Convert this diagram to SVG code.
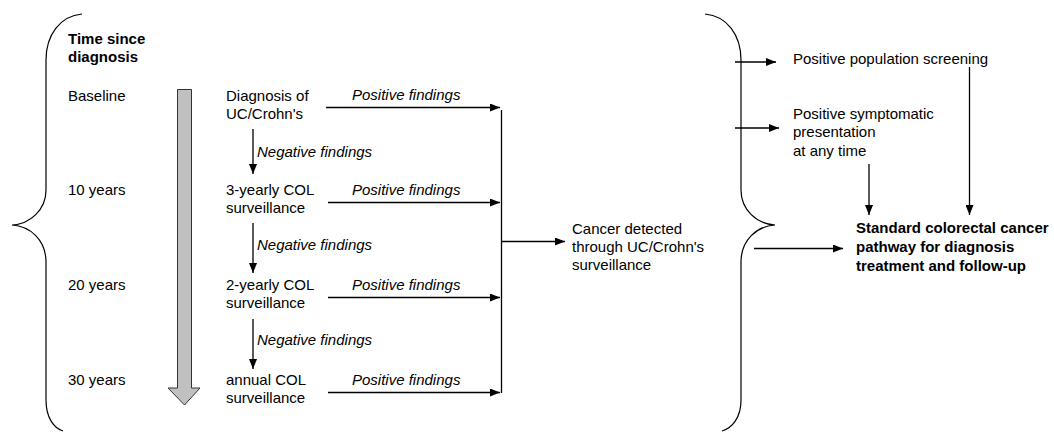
<svg xmlns="http://www.w3.org/2000/svg" width="1054" height="432" viewBox="0 0 1054 432">
  <style>
    text { font-family: "Liberation Sans", Arial, sans-serif; font-size: 15px; fill: #000; }
    .b { font-weight: bold; }
    .i { font-style: italic; }
    .ln { fill: none; stroke: #000; stroke-width: 1.3; }
    .br { fill: none; stroke: #000; stroke-width: 1.2; }
  </style>
  <defs>
    <marker id="ah" viewBox="0 0 10 8" refX="10" refY="4" markerWidth="10" markerHeight="8" markerUnits="userSpaceOnUse" orient="auto">
      <path d="M0,0 L10,4 L0,8 Z" fill="#000"/>
    </marker>
  </defs>

  <rect width="1054" height="432" fill="#fff"/>

  <!-- braces -->
  <g id="brace-left">
    <path class="br" d="M82 14 C60 16 46 35 46 60 L46 190 C46 210 30 224 12 225 C30 226 46 240 46 262 L46 400 C46 418 54 428 63 431"/>
  </g>
  <g id="brace-right">
    <path class="br" d="M705 14 C727 16 741 35 741 60 L741 190 C741 210 757 224 775 225 C757 226 741 240 741 262 L741 400 C741 418 732 428 722 431"/>
  </g>

  <!-- time axis -->
  <g id="time-axis">
    <text class="b" x="68" y="44">Time since</text>
    <text class="b" x="68" y="62">diagnosis</text>
    <text x="68" y="101">Baseline</text>
    <text x="68" y="195">10 years</text>
    <text x="68" y="290">20 years</text>
    <text x="68" y="385">30 years</text>
    <path d="M177.5 89.5 H191.5 V388 H200 L184.5 405 L168 388 H177.5 Z" fill="#c0c0c0" stroke="#333" stroke-width="1"/>
  </g>

  <!-- surveillance stages -->
  <g id="stage-diagnosis">
    <text x="226" y="101">Diagnosis of</text>
    <text x="226" y="119">UC/Crohn's</text>
  </g>
  <g id="stage-3yearly">
    <text x="226" y="195">3-yearly COL</text>
    <text x="226" y="213">surveillance</text>
  </g>
  <g id="stage-2yearly">
    <text x="226" y="290">2-yearly COL</text>
    <text x="226" y="308">surveillance</text>
  </g>
  <g id="stage-annual">
    <text x="226" y="385">annual COL</text>
    <text x="226" y="403">surveillance</text>
  </g>

  <g id="cancer-detected">
    <text x="572" y="234">Cancer detected</text>
    <text x="572" y="252">through UC/Crohn's</text>
    <text x="572" y="270">surveillance</text>
  </g>

  <g id="population-screening">
    <text x="793" y="63.5">Positive population screening</text>
  </g>
  <g id="symptomatic">
    <text x="793" y="118.5">Positive symptomatic</text>
    <text x="793" y="137">presentation</text>
    <text x="793" y="155.5">at any time</text>
  </g>
  <g id="standard-pathway">
    <text class="b" x="856" y="233">Standard colorectal cancer</text>
    <text class="b" x="856" y="252">pathway for diagnosis</text>
    <text class="b" x="856" y="271">treatment and follow-up</text>
  </g>

  <!-- connectors -->
  <g id="connectors">
    <!-- negative findings: step down to next stage -->
    <line class="ln" x1="253" y1="129" x2="253" y2="174" marker-end="url(#ah)"/>
    <line class="ln" x1="253" y1="223" x2="253" y2="273" marker-end="url(#ah)"/>
    <line class="ln" x1="253" y1="319" x2="253" y2="369" marker-end="url(#ah)"/>
    <text class="i" x="257" y="157">Negative findings</text>
    <text class="i" x="257" y="250">Negative findings</text>
    <text class="i" x="257" y="345">Negative findings</text>

    <!-- positive findings: to collector -->
    <line class="ln" x1="326" y1="107.5" x2="500" y2="107.5" marker-end="url(#ah)"/>
    <line class="ln" x1="328" y1="202.5" x2="500" y2="202.5" marker-end="url(#ah)"/>
    <line class="ln" x1="328" y1="297.5" x2="500" y2="297.5" marker-end="url(#ah)"/>
    <line class="ln" x1="328" y1="392.5" x2="500" y2="392.5" marker-end="url(#ah)"/>
    <text class="i" x="352" y="100">Positive findings</text>
    <text class="i" x="352" y="195">Positive findings</text>
    <text class="i" x="352" y="290">Positive findings</text>
    <text class="i" x="352" y="385">Positive findings</text>

    <!-- collector and output -->
    <line class="ln" x1="501.5" y1="110" x2="501.5" y2="393"/>
    <line class="ln" x1="502" y1="241.5" x2="565" y2="241.5" marker-end="url(#ah)"/>

    <!-- right side -->
    <line class="ln" x1="735" y1="62" x2="776" y2="62" marker-end="url(#ah)"/>
    <line class="ln" x1="735" y1="128" x2="779" y2="128" marker-end="url(#ah)"/>
    <line class="ln" x1="869" y1="164" x2="869" y2="215" marker-end="url(#ah)"/>
    <line class="ln" x1="969.5" y1="67" x2="969.5" y2="215" marker-end="url(#ah)"/>
    <line class="ln" x1="754" y1="248.5" x2="843" y2="248.5" marker-end="url(#ah)"/>
  </g>
</svg>
